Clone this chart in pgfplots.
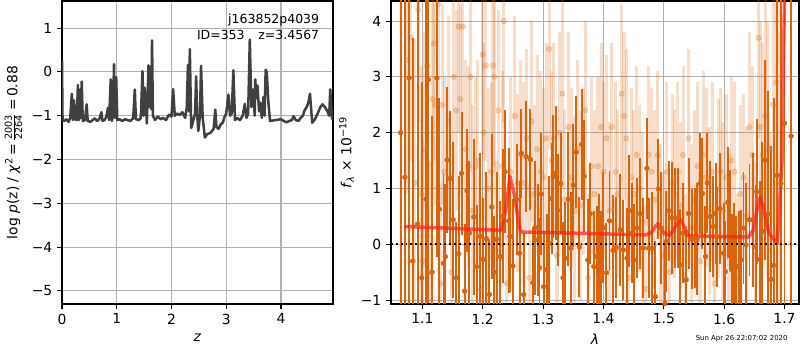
\documentclass[border=0pt]{standalone}
\usepackage{pgfplots}
\pgfplotsset{compat=1.18}
\usepackage{pgfplotstable}
\usepackage{fontspec}
\setmainfont{DejaVu Sans}
\definecolor{dorange}{RGB}{217,100,12}
\definecolor{gridc}{RGB}{176,176,176}
\definecolor{pzline}{RGB}{64,64,64}
\definecolor{modelred}{RGB}{255,30,20}

\pgfplotstableread{
x y
0.000 0.25
0.010 -1.10
0.040 -1.12
0.080 -1.08
0.120 -1.14
0.150 -1.05
0.180 -0.50
0.200 -1.10
0.220 -0.65
0.240 -1.08
0.270 -1.10
0.290 -0.30
0.310 -1.10
0.330 -0.40
0.340 -1.05
0.360 -0.22
0.380 -1.12
0.420 -1.10
0.450 -0.74
0.470 -1.12
0.520 -1.14
0.560 -1.10
0.600 -1.06
0.640 -1.12
0.680 -1.08
0.720 -0.92
0.740 -1.12
0.780 -1.10
0.810 -1.02
0.840 -0.82
0.860 -1.10
0.890 -0.17
0.910 -1.12
0.930 -1.00
0.950 0.18
0.970 -1.05
0.990 -0.12
1.010 -1.10
1.050 -1.08
1.100 -1.12
1.150 -1.08
1.200 -1.10
1.250 -1.12
1.300 -1.06
1.330 -0.40
1.350 -1.08
1.400 -1.10
1.440 -1.05
1.470 0.02
1.490 -1.00
1.510 -0.36
1.530 -0.70
1.550 -1.18
1.580 0.15
1.600 -0.80
1.610 0.12
1.630 -0.85
1.645 0.72
1.660 -1.00
1.700 -1.10
1.750 -1.02
1.800 -1.08
1.850 -1.05
1.900 -1.10
1.950 -0.98
2.000 -1.02
2.030 -0.39
2.060 -1.00
2.100 -0.95
2.150 -0.98
2.200 -0.92
2.250 -1.05
2.280 -0.80
2.300 0.16
2.320 -0.90
2.335 0.52
2.360 -1.28
2.400 -1.10
2.430 -0.95
2.450 -0.10
2.470 -1.00
2.490 -1.35
2.520 -1.00
2.540 0.14
2.570 -1.05
2.610 -1.50
2.650 -1.42
2.700 -1.40
2.740 -1.35
2.770 -1.30
2.800 -0.86
2.820 -1.25
2.860 -1.30
2.900 -1.20
2.940 -1.15
2.970 -1.02
3.000 -0.95
3.040 -0.52
3.070 -1.00
3.100 -0.95
3.130 0.04
3.160 -1.10
3.200 -1.05
3.250 -1.10
3.300 -1.00
3.340 -0.73
3.370 -1.05
3.400 -0.95
3.430 0.74
3.460 -0.80
3.490 -0.40
3.520 -1.00
3.530 -0.17
3.550 -0.60
3.570 -0.31
3.600 -0.90
3.620 -0.70
3.650 -1.05
3.680 -0.57
3.700 -1.00
3.720 0.05
3.740 0.00
3.770 -0.70
3.800 -1.12
3.900 -1.10
4.000 -1.08
4.050 -1.12
4.100 -1.15
4.150 -1.12
4.200 -1.10
4.230 -1.01
4.270 -1.10
4.320 -1.12
4.360 -1.05
4.400 -1.00
4.430 -0.88
4.470 -0.80
4.500 -0.70
4.530 -0.50
4.570 -1.16
4.620 -1.08
4.670 -0.95
4.720 -0.80
4.760 -0.74
4.800 -0.80
4.850 -0.90
4.880 -1.00
4.900 -0.40
4.930 -1.05
4.950 -1.10
}\pzdata

\pgfplotstableread{
x y e
1.064 2.00 5.0
1.071 1.20 4.5
1.078 2.98 4.8
1.084 -0.30 4.0
1.092 0.36 4.5
1.099 -0.60 3.5
1.106 0.81 4.5
1.110 2.95 4.0
1.116 -0.50 2.8
1.124 2.98 3.2
1.128 0.63 2.0
1.135 -0.34 1.6
1.138 -0.22 1.3
1.141 1.51 1.3
1.146 1.18 1.2
1.151 0.44 1.4
1.156 -0.60 1.0
1.160 -0.17 1.4
1.165 1.27 1.1
1.170 -0.84 1.2
1.174 0.96 1.1
1.178 0.20 1.3
1.185 0.49 1.4
1.190 -0.40 1.1
1.196 0.14 1.5
1.201 -0.27 1.1
1.206 0.10 1.2
1.211 -0.90 1.0
1.215 0.67 1.3
1.219 -0.50 1.0
1.223 0.09 1.2
1.229 -0.22 1.0
1.233 0.50 1.2
1.237 1.30 1.1
1.243 0.42 1.3
1.245 0.14 1.0
1.250 -0.39 1.2
1.256 0.80 1.0
1.261 -0.16 1.3
1.264 1.63 0.8
1.268 -0.90 1.1
1.272 1.57 1.0
1.279 1.52 0.9
1.283 -0.69 1.0
1.287 0.30 1.2
1.291 0.08 1.0
1.294 -0.42 0.9
1.297 0.90 1.1
1.301 -0.76 1.0
1.306 -0.45 1.0
1.310 0.02 1.2
1.314 0.82 1.0
1.317 1.21 1.1
1.321 1.27 1.2
1.324 0.61 1.0
1.329 1.09 0.9
1.333 -0.60 1.0
1.337 -0.25 1.0
1.342 0.81 1.2
1.346 -0.07 1.0
1.350 1.06 1.1
1.355 1.65 1.0
1.360 -0.05 0.9
1.364 1.79 1.0
1.368 1.22 1.0
1.374 -0.28 1.1
1.378 0.55 0.9
1.384 -0.40 1.0
1.389 -0.22 0.9
1.392 -0.10 1.0
1.396 -0.31 0.9
1.400 0.30 1.0
1.405 -0.51 0.9
1.410 0.42 0.9
1.416 -0.11 1.0
1.421 -0.06 0.9
1.428 0.26 1.0
1.433 -0.10 0.9
1.439 -0.25 0.9
1.443 0.60 1.0
1.447 0.20 0.9
1.451 -0.28 1.0
1.455 0.29 0.9
1.461 0.55 1.0
1.466 -0.07 0.9
1.472 1.36 0.9
1.475 -0.07 0.9
1.480 -0.07 1.0
1.486 -0.94 1.0
1.491 0.99 0.9
1.496 0.29 1.0
1.502 -1.06 1.1
1.504 0.05 0.9
1.508 0.60 0.9
1.513 0.47 1.0
1.519 0.47 0.9
1.523 0.47 0.9
1.527 -0.37 1.0
1.532 0.20 0.9
1.537 -0.64 0.9
1.541 0.55 1.0
1.546 0.09 0.9
1.552 0.11 0.9
1.555 0.09 1.0
1.560 1.09 0.9
1.564 0.91 1.0
1.569 -0.22 0.9
1.572 1.10 0.9
1.577 0.50 1.0
1.582 0.32 0.9
1.586 0.55 0.9
1.588 0.13 0.9
1.593 0.64 1.0
1.599 -0.16 0.9
1.602 -0.49 0.9
1.606 0.75 1.0
1.610 0.44 0.9
1.613 -0.46 1.0
1.616 -0.16 0.9
1.620 -0.40 0.9
1.624 -0.40 1.0
1.628 -0.28 0.9
1.632 0.29 1.0
1.636 -0.01 1.1
1.642 0.44 1.0
1.648 0.44 1.2
1.652 -0.04 1.1
1.654 0.94 1.3
1.659 -0.27 1.4
1.663 0.23 1.6
1.668 1.51 1.8
1.672 0.54 2.2
1.678 -0.63 2.4
1.682 -0.38 3.0
1.688 1.24 3.5
1.694 1.09 4.5
1.700 2.17 6.0
1.711 1.94 5.0
}\darkdata

\pgfplotstableread{
x y e
1.075 3.3 2.4
1.080 3.7 2.2
1.087 1.1 2.6
1.093 4.2 2.0
1.098 0.9 2.3
1.100 -0.3 2.2
1.104 1.7 2.1
1.108 3.2 1.9
1.113 -0.5 2.0
1.117 2.6 1.8
1.119 3.6 2.1
1.121 2.5 1.8
1.126 4.3 1.9
1.130 -0.7 1.8
1.133 2.5 1.8
1.137 1.3 1.7
1.143 2.2 1.9
1.148 -0.5 1.8
1.152 3.0 1.7
1.156 2.4 1.8
1.160 3.9 1.9
1.163 2.6 1.7
1.167 3.9 1.8
1.172 1.7 1.6
1.176 1.4 1.8
1.180 3.0 1.7
1.183 0.6 1.9
1.188 1.4 1.6
1.192 1.5 1.8
1.197 -0.8 1.7
1.200 3.4 1.8
1.202 2.0 1.6
1.205 3.2 1.7
1.210 1.0 1.8
1.214 1.3 1.6
1.217 3.2 1.8
1.219 3.0 1.7
1.222 -0.1 1.6
1.226 2.4 1.8
1.232 1.4 1.7
1.235 4.0 1.8
1.240 -0.7 1.6
1.246 1.3 1.7
1.253 2.3 1.8
1.258 1.1 1.6
1.263 1.6 1.7
1.268 1.1 1.8
1.273 1.9 1.6
1.277 -0.6 1.7
1.281 2.2 1.8
1.285 0.9 1.6
1.290 1.7 1.7
1.296 1.3 1.8
1.300 1.2 1.6
1.305 1.9 1.7
1.310 3.5 1.8
1.314 1.5 1.6
1.318 1.9 1.7
1.323 -0.2 1.6
1.327 2.0 1.8
1.332 2.7 1.7
1.336 0.8 1.6
1.342 2.1 1.7
1.347 1.2 1.6
1.352 0.6 1.7
1.357 1.7 1.6
1.362 0.7 1.7
1.367 1.3 1.5
1.370 2.4 1.6
1.375 -0.6 1.5
1.380 1.4 1.6
1.385 0.9 1.5
1.391 1.4 1.6
1.396 2.1 1.5
1.400 1.3 1.6
1.405 1.9 1.5
1.410 0.6 1.6
1.414 2.1 1.5
1.420 1.3 1.6
1.424 0.9 1.5
1.430 2.7 1.6
1.434 2.3 1.5
1.438 1.9 1.6
1.442 -0.6 1.5
1.446 1.2 1.6
1.450 0.9 1.5
1.455 1.6 1.6
1.460 1.0 1.5
1.465 0.4 1.6
1.470 -0.8 1.5
1.475 1.6 1.6
1.480 1.3 1.5
1.485 0.8 1.6
1.490 1.6 1.5
1.494 0.2 1.6
1.499 -0.2 1.5
1.505 1.3 1.6
1.510 -0.5 1.5
1.514 1.1 1.6
1.518 0.9 1.5
1.523 1.3 1.6
1.527 0.7 1.5
1.532 1.6 1.6
1.536 -0.6 1.5
1.541 1.9 1.6
1.546 0.3 1.5
1.551 0.8 1.6
1.556 1.4 1.5
1.560 -0.3 1.6
1.565 1.6 1.5
1.570 1.2 1.6
1.575 0.6 1.5
1.580 1.3 1.6
1.584 -0.7 1.5
1.590 1.0 1.6
1.594 1.3 1.5
1.598 0.6 1.6
1.603 1.2 1.5
1.608 0.1 1.6
1.612 1.5 1.5
1.617 1.3 1.6
1.622 -0.6 1.5
1.627 0.9 1.6
1.632 1.2 1.5
1.637 0.5 1.6
1.642 2.1 1.7
1.647 1.6 1.6
1.652 -0.2 1.7
1.657 3.7 1.8
1.660 2.1 1.9
1.664 1.6 2.0
1.668 2.3 2.1
1.672 1.7 2.3
1.676 -0.5 2.5
1.681 2.5 2.7
1.686 2.9 2.9
1.690 1.2 3.2
}\lightdata

\pgfplotstableread{
x y
1.070 0.32
1.230 0.25
1.238 0.60
1.245 1.22
1.252 0.90
1.262 0.25
1.265 0.22
1.470 0.17
1.478 0.20
1.490 0.37
1.500 0.20
1.510 0.16
1.518 0.30
1.527 0.45
1.535 0.30
1.540 0.15
1.640 0.13
1.648 0.25
1.654 0.60
1.660 0.85
1.666 0.60
1.674 0.20
1.688 0.02
1.696 1.50
1.699 3.80
1.700 4.40
}\modeldata

\pgfplotsset{
  mplaxis/.style={
    scale only axis,
    anchor=south west,
    axis line style={black, line width=0.8pt},
    tick align=outside,
    tick pos=left,
    major tick length=3.5pt,
    tick style={black, line width=0.8pt},
    grid=major,
    grid style={gridc, line width=0.8pt},
    tick label style={font=\fontsize{10}{12}\selectfont},
    label style={font=\fontsize{10}{12}\selectfont},
    clip=true,
  }
}

\begin{document}
\begin{tikzpicture}[x=1pt,y=1pt]
\useasboundingbox (0,0) rectangle (576,252);

\begin{axis}[mplaxis,
  at={(44.64pt,33.12pt)}, width=195.12pt, height=218.16pt,
  xmin=0, xmax=4.95, ymin=-5.3, ymax=1.62,
  xtick={0,1,2,3,4}, xticklabels={0,1,2,3,4},
  ytick={-5,-4,-3,-2,-1,0,1}, yticklabels={−5,−4,−3,−2,−1,0,1},
  xlabel={\textit{z}},
  ylabel={log \textit{p}(z) / \textit{χ}\textsuperscript{2}\,=\,$\frac{\mbox{\scriptsize 2003}}{\mbox{\scriptsize 2264}}$\,=\,0.88},
]
\addplot[pzline, line width=1.8pt, line join=round] table[x=x,y=y] {\pzdata};
\node[anchor=east, inner sep=0pt, font=\fontsize{9}{11}\selectfont] at (rel axis cs:0.95,0.937) {j163852p4039};
\node[anchor=east, inner sep=0pt, font=\fontsize{9}{11}\selectfont] at (rel axis cs:0.95,0.887) {ID=353\hspace{1.1em}z=3.4567};
\end{axis}

\begin{axis}[mplaxis,
  at={(281.52pt,33.12pt)}, width=293.76pt, height=218.16pt,
  xmin=1.048, xmax=1.724, ymin=-1.07, ymax=4.36,
  xtick={1.1,1.2,1.3,1.4,1.5,1.6,1.7}, xticklabels={1.1,1.2,1.3,1.4,1.5,1.6,1.7},
  ytick={-1,0,1,2,3,4}, yticklabels={−1,0,1,2,3,4},
  xlabel={\textit{λ}},
  ylabel={\textit{f}\textsubscript{\textit{λ}} × 10\textsuperscript{−19}},
  ylabel style={yshift=-2pt},
]
\addplot[only marks, mark=*, mark size=2.0pt, dorange,
  mark options={draw=none, fill=dorange, opacity=0.25},
  error bars/.cd, y dir=both, y explicit, error mark=none,
  error bar style={line width=2.2pt, dorange, opacity=0.22}]
  table[x=x, y=y, y error=e] {\lightdata};
\addplot[only marks, mark=*, mark size=1.7pt, dorange,
  mark options={draw=none, fill=dorange},
  error bars/.cd, y dir=both, y explicit, error mark=none,
  error bar style={line width=1.4pt, dorange}]
  table[x=x, y=y, y error=e] {\darkdata};
\addplot[modelred, opacity=0.7, line width=2.5pt, line join=round] table[x=x,y=y] {\modeldata};
\addplot[black, line width=1.5pt, dash pattern=on 1.3pt off 2.2pt] coordinates {(1.048,0) (1.724,0)};
\end{axis}

\node[font=\fontsize{5}{6}\selectfont] at (534,7.9) {Sun Apr 26 22:07:02 2020};
\end{tikzpicture}
\end{document}
